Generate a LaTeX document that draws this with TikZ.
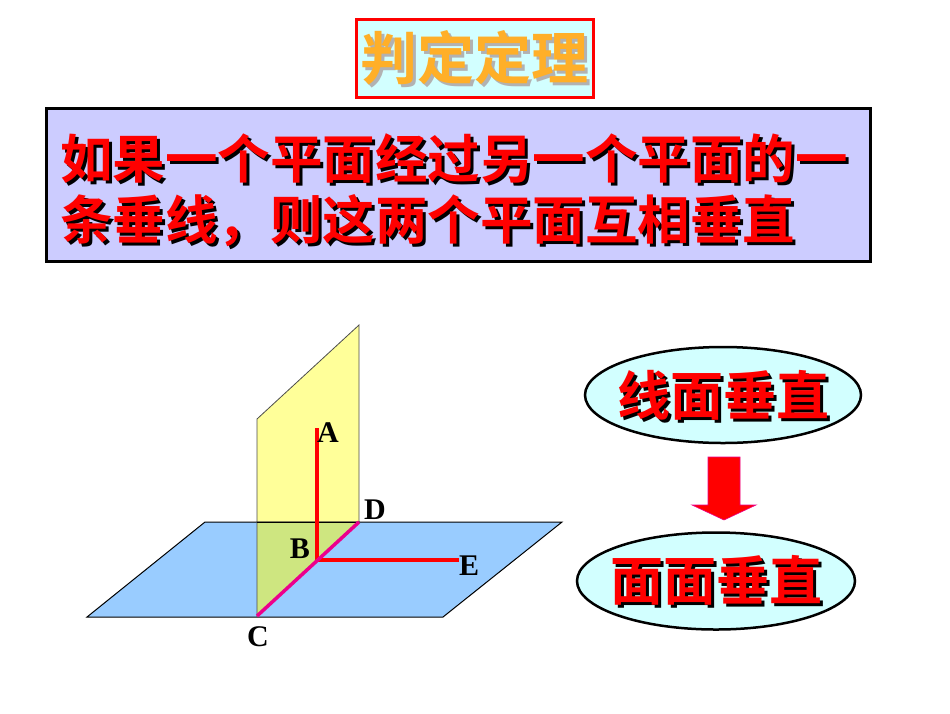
\documentclass[tikz,border=0pt]{standalone}
\usepackage{fontspec}
\newfontfamily\cjk{Noto Sans CJK SC}[BoldFont={* Bold}]
\setmainfont{Liberation Serif}
\usetikzlibrary{shapes.geometric}
\definecolor{lav}{RGB}{204,204,255}
\definecolor{lcyan}{RGB}{210,255,255}
\definecolor{pblue}{RGB}{153,204,255}
\definecolor{pyel}{RGB}{255,255,153}
\definecolor{pgreen}{RGB}{206,230,128}
\definecolor{ttl}{RGB}{255,175,40}
\tikzset{
  big/.style={font=\cjk\bfseries\fontsize{52.5}{56}\selectfont, inner sep=0pt, anchor=west},
  sh/.style={big, text=black},
  rd/.style={big, text=red},
  ef/.style={font=\cjk\bfseries\fontsize{53}{56}\selectfont, inner sep=0pt},
  lab/.style={font=\bfseries\fontsize{30}{32}\selectfont, inner sep=1pt},
  ell/.style={ellipse, draw=black, line width=2.5pt, fill=lcyan}
}
\begin{document}
\begin{tikzpicture}[x=1pt,y=-1pt]
\useasboundingbox (0,0) rectangle (950,713);
% title
\node[draw=red, line width=3pt, fill=lcyan, minimum width=237pt, minimum height=78pt] (title) at (474.5,58) {};
\node[font=\cjk\bfseries\fontsize{57}{60}\selectfont, text=black!30, inner sep=0pt] (titlesh) at (477,61) {判定定理};
\node[font=\cjk\bfseries\fontsize{57}{60}\selectfont, text=ttl, inner sep=0pt] (titletx) at (474.5,58) {判定定理};
% statement box
\node[draw=black, line width=3.5pt, fill=lav, minimum width=824pt, minimum height=153pt] (box) at (458.5,185) {};
\node[sh] (l1s) at (63,162) {如果一个平面经过另一个平面的一};
\node[rd] (l1) at (60,159) {如果一个平面经过另一个平面的一};
\node[sh] (l2s) at (63,224) {条垂线，则这两个平面互相垂直};
\node[rd] (l2) at (60,221) {条垂线，则这两个平面互相垂直};
% planes
\coordinate (C) at (257,616);
\coordinate (D) at (359,522);
\coordinate (B) at (317,560);
\coordinate (A) at (317,428);
\coordinate (E) at (459,560);
\coordinate (Y1) at (257,419);
\coordinate (Y2) at (359,325);
\coordinate (Cb) at (257,522);
\filldraw[fill=pyel, draw=black!70, line width=0.8pt] (C) -- (Y1) -- (Y2) -- (D) -- cycle;
\filldraw[fill=pblue, draw=black, line width=1pt] (87,617) -- (443,617) -- (562,522) -- (205,522) -- cycle;
\filldraw[fill=pgreen, draw=black!70, line width=0.8pt] (C) -- (Cb) -- (D) -- cycle;
\draw[black, line width=1pt] (Cb) -- (D);
\draw[red, line width=3.5pt] (A) -- (B) -- (E);
\draw[magenta, line width=3.5pt] (C) -- (D);
\node[lab, anchor=west] (la) at (316,433) {A};
\node[lab, anchor=east] (lb) at (311,549) {B};
\node[lab] (lc) at (258,637) {C};
\node[lab, anchor=west] (ld) at (363,510) {D};
\node[lab, anchor=west] (le) at (458,566) {E};
% ellipses
\node[ell, minimum width=276pt, minimum height=96pt] (e1) at (723,395) {};
\node[ell, minimum width=278pt, minimum height=97pt] (e2) at (716,581) {};
\node[ef, text=black] (e1s) at (726,398) {线面垂直};
\node[ef, text=red] (e1t) at (723,395) {线面垂直};
\node[ef, text=black] (e2s) at (719,583) {面面垂直};
\node[ef, text=red] (e2t) at (716,580) {面面垂直};
% arrow
\fill[red, draw=magenta, line width=0.6pt] (708,457) -- (740,457) -- (740,505) -- (756,505) -- (724,520) -- (692,505) -- (708,505) -- cycle;
\end{tikzpicture}
\end{document}
